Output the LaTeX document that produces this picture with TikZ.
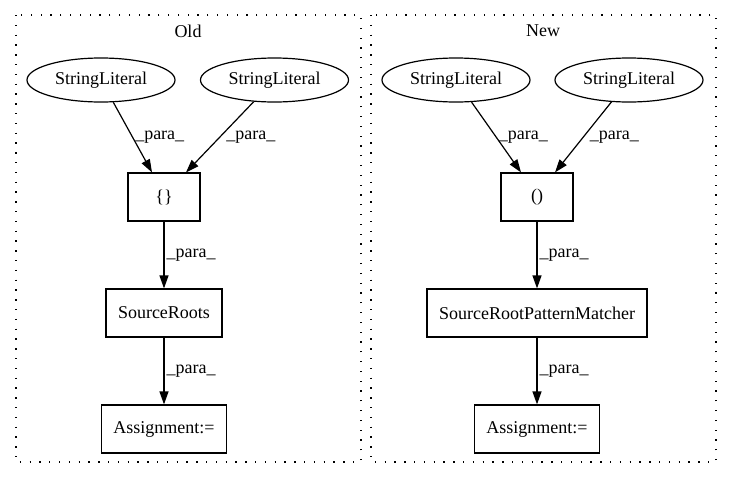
\documentclass[tikz,border=0pt]{standalone}
\usepackage{fontspec}
\setmainfont{Liberation Serif}
\usetikzlibrary{shapes.geometric,arrows.meta}

\begin{document}
\begin{tikzpicture}[x=1pt,y=-1pt,
    every node/.style={font=\fontsize{18}{21}\selectfont},
    lit/.style={draw,ellipse,line width=1.2pt,minimum width=148pt,minimum height=44pt,inner sep=0pt},
    box/.style={draw,rectangle,line width=1.2pt,minimum height=48pt,minimum width=72pt,inner xsep=12pt},
    cluster/.style={line width=1.2pt,dash pattern=on 1.3pt off 8.5pt},
    para/.style={line width=1.2pt,-{Triangle[length=13pt,width=9pt]}},
    lbl/.style={anchor=west,inner sep=2pt,midway}]
      \useasboundingbox (0,0) rectangle (731,480);

      \draw[cluster] (16,15) rectangle (361,462);
      \draw[cluster] (371,15) rectangle (716,462);
      \node (old) at (188,31) {Old};
      \node (new) at (543,31) {New};

      \node[lit] (sl1) at (101,80) {StringLiteral};
      \node[lit] (sl2) at (274.5,80) {StringLiteral};
      \node[box] (brace) at (164,197) {\{\}};
      \node[box] (roots) at (164,313) {SourceRoots};
      \node[box] (asg1) at (164,429) {Assignment:=};

      \node[lit] (sl3) at (456,80) {StringLiteral};
      \node[lit] (sl4) at (629,80) {StringLiteral};
      \node[box] (paren) at (537,197) {()};
      \node[box] (matcher) at (537,313) {SourceRootPatternMatcher};
      \node[box] (asg2) at (537,429) {Assignment:=};

      \draw[para] (sl1) -- ([xshift=-12pt]brace.north) node[lbl] {\_para\_};
      \draw[para] (sl2) -- ([xshift=22pt]brace.north) node[lbl,xshift=4pt] {\_para\_};
      \draw[para] (brace) -- (roots) node[lbl] {\_para\_};
      \draw[para] (roots) -- (asg1) node[lbl] {\_para\_};

      \draw[para] (sl3) -- ([xshift=-16pt]paren.north) node[lbl] {\_para\_};
      \draw[para] (sl4) -- ([xshift=18pt]paren.north) node[lbl,xshift=4pt] {\_para\_};
      \draw[para] (paren) -- (matcher) node[lbl] {\_para\_};
      \draw[para] (matcher) -- (asg2) node[lbl] {\_para\_};
    \end{tikzpicture}
\end{document}
